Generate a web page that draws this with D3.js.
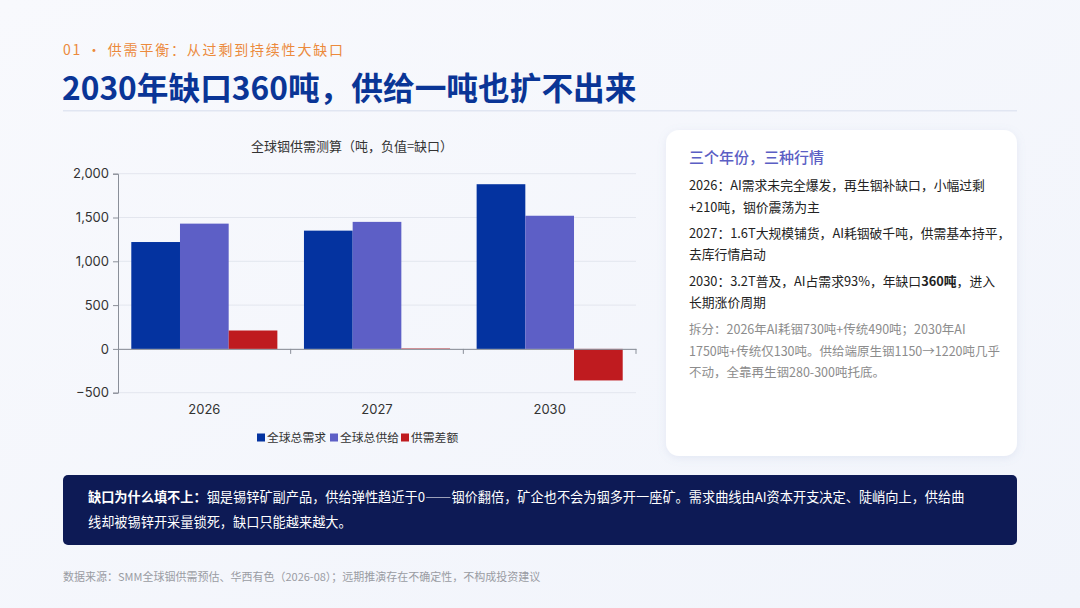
<!DOCTYPE html>
<html lang="zh">
<head>
<meta charset="utf-8">
<script src="https://cdn.jsdelivr.net/npm/d3@7/dist/d3.min.js"></script>
<style>
  body { margin: 0; background: #f5f7fc; }
  svg { display: block; font-family: "Noto Sans CJK SC", "Noto Sans", sans-serif; }
</style>
</head>
<body>
<script>
// 数据
const years = ["2026", "2027", "2030"];
const seriesNames = ["全球总需求", "全球总供给", "供需差额"];
const demand = [1220, 1350, 1880];
const supply = [1430, 1450, 1520];
const balance = [210, 5, -360];
const yTicks = [-500, 0, 500, 1000, 1500, 2000];
const colors = ["#0433a0", "#5d5fc6", "#bf1b1f"];

const cardLines = [
  {t: "2026：AI需求未完全爆发，再生铟补缺口，小幅过剩", y: 190},
  {t: "+210吨，铟价震荡为主", y: 212},
  {t: "2027：1.6T大规模铺货，AI耗铟破千吨，供需基本持平，", y: 238},
  {t: "去库行情启动", y: 259},
  {t: "2030：3.2T普及，AI占需求93%，年缺口360吨，进入", y: 286},
  {t: "长期涨价周期", y: 307}
];
const noteLines = [
  "拆分：2026年AI耗铟730吨+传统490吨；2030年AI",
  "1750吨+传统仅130吨。供给端原生铟1150→1220吨几乎",
  "不动，全靠再生铟280-300吨托底。"
];

const W = 1080, H = 608;
const svg = d3.select("body").append("svg").attr("width", W).attr("height", H);

// 背景
const defs = svg.append("defs");
const bg = defs.append("linearGradient").attr("id", "bg").attr("x1", 0).attr("y1", 0).attr("x2", 1).attr("y2", 1);
bg.append("stop").attr("offset", "0%").attr("stop-color", "#f8f9fd");
bg.append("stop").attr("offset", "100%").attr("stop-color", "#f1f4fb");
svg.append("rect").attr("width", W).attr("height", H).attr("fill", "url(#bg)");

const shadow = defs.append("filter").attr("id", "shadow").attr("x", "-10%").attr("y", "-10%").attr("width", "120%").attr("height", "120%");
shadow.append("feDropShadow").attr("dx", 0).attr("dy", 2).attr("stdDeviation", 4)
  .attr("flood-color", "#8090c0").attr("flood-opacity", 0.15);

// 标题
svg.append("text").attr("x", 63).attr("y", 55)
  .attr("font-size", 14).attr("fill", "#ec8a3c").attr("letter-spacing", 1.8)
  .text("01 · 供需平衡：从过剩到持续性大缺口");
svg.append("text").attr("x", 62).attr("y", 100)
  .attr("font-size", 31.7).attr("font-weight", 700).attr("fill", "#0a3596")
  .text("2030年缺口360吨，供给一吨也扩不出来");
svg.append("rect").attr("x", 63).attr("y", 110).attr("width", 954).attr("height", 1.5).attr("fill", "#e1e6f2");

// 图表
const x = d3.scaleBand().domain(years).range([118, 636]).paddingInner(0);
const x1 = d3.scaleBand().domain(seriesNames).range([13.3, x.bandwidth() - 13.3]);
const y = d3.scaleLinear().domain([-500, 2000]).range([392.7, 173.7]);

svg.append("text").attr("x", 352).attr("y", 151).attr("text-anchor", "middle")
  .attr("font-size", 13).attr("fill", "#333").text("全球铟供需测算（吨，负值=缺口）");

svg.append("g").selectAll("line").data(yTicks).join("line")
  .attr("x1", 118).attr("x2", 636)
  .attr("y1", d => y(d)).attr("y2", d => y(d))
  .attr("stroke", "#e3e6ee").attr("stroke-width", 1);

const yAxis = svg.append("g").attr("transform", "translate(118,0)")
  .call(d3.axisLeft(y).tickValues(yTicks).tickFormat(d3.format(",")).tickSize(5).tickPadding(4));
yAxis.select(".domain").attr("stroke", "#8a8f99");
yAxis.selectAll(".tick line").attr("stroke", "#8a8f99");
yAxis.selectAll("text").attr("font-size", 13).attr("fill", "#333").attr("font-family", "Inter, 'Noto Sans', sans-serif");

const table = years.map((yr, i) => ({year: yr, values: [demand[i], supply[i], balance[i]]}));
svg.append("g").selectAll("g").data(table).join("g")
  .attr("transform", d => `translate(${x(d.year)},0)`)
  .selectAll("rect").data(d => d.values.map((v, k) => ({k, v})))
  .join("rect")
  .attr("x", d => x1(seriesNames[d.k]))
  .attr("width", x1.bandwidth())
  .attr("y", d => y(Math.max(0, d.v)))
  .attr("height", d => Math.abs(y(d.v) - y(0)))
  .attr("fill", d => colors[d.k]);

// x 轴 (位于 0 值)
const xAxis = svg.append("g").attr("transform", `translate(0,${y(0)})`)
  .call(d3.axisBottom(x).tickSize(0).tickFormat(""));
xAxis.select(".domain").attr("stroke", "#8a8f99");
svg.append("g").selectAll("line").data(years).join("line")
  .attr("x1", d => x(d) + x.bandwidth()).attr("x2", d => x(d) + x.bandwidth())
  .attr("y1", y(0)).attr("y2", y(0) + 5).attr("stroke", "#8a8f99");
svg.append("g").selectAll("text").data(years).join("text")
  .attr("x", d => x(d) + x.bandwidth() / 2).attr("y", 414)
  .attr("text-anchor", "middle").attr("font-size", 13).attr("fill", "#333")
  .attr("font-family", "Inter, 'Noto Sans', sans-serif")
  .text(d => d);

// 图例
const legendX = [257, 330, 401];
const lg = svg.append("g").selectAll("g").data(seriesNames).join("g")
  .attr("transform", (d, i) => `translate(${legendX[i]},438)`);
lg.append("rect").attr("x", 0).attr("y", -4.5).attr("width", 8).attr("height", 8).attr("fill", (d, i) => colors[i]);
lg.append("text").attr("x", 10).attr("y", 4).attr("font-size", 11.8).attr("fill", "#333").text(d => d);

// 右侧卡片
svg.append("rect").attr("x", 666).attr("y", 130).attr("width", 351).attr("height", 326)
  .attr("rx", 13).attr("fill", "#ffffff").attr("filter", "url(#shadow)");
svg.append("text").attr("x", 689).attr("y", 163).attr("font-size", 15).attr("font-weight", 500)
  .attr("fill", "#5b5ec4").text("三个年份，三种行情");
svg.append("g").selectAll("text").data(cardLines).join("text")
  .attr("x", 689).attr("y", d => d.y).attr("font-size", 12.8).attr("fill", "#222")
  .html(d => d.t.replace("360吨", "<tspan font-weight='700'>360吨</tspan>"));
svg.append("g").selectAll("text").data(noteLines).join("text")
  .attr("x", 689).attr("y", (d, i) => 334 + i * 21.5).attr("font-size", 12.5).attr("fill", "#8c8c8c")
  .text(d => d);

// 底部说明
svg.append("rect").attr("x", 63).attr("y", 475).attr("width", 954).attr("height", 70)
  .attr("rx", 5).attr("fill", "#0d1a55");
const b1 = svg.append("text").attr("x", 88).attr("y", 502).attr("font-size", 13.2).attr("fill", "#fff");
b1.append("tspan").attr("font-weight", 700).text("缺口为什么填不上：");
b1.append("tspan").text("铟是锡锌矿副产品，供给弹性趋近于0——铟价翻倍，矿企也不会为铟多开一座矿。需求曲线由AI资本开支决定、陡峭向上，供给曲");
svg.append("text").attr("x", 88).attr("y", 527).attr("font-size", 13.2).attr("fill", "#fff")
  .text("线却被锡锌开采量锁死，缺口只能越来越大。");

// 数据来源
svg.append("text").attr("x", 63).attr("y", 581).attr("font-size", 11).attr("fill", "#9a9ca3")
  .text("数据来源：SMM全球铟供需预估、华西有色（2026-08）；远期推演存在不确定性，不构成投资建议");
</script>
</body>
</html>
